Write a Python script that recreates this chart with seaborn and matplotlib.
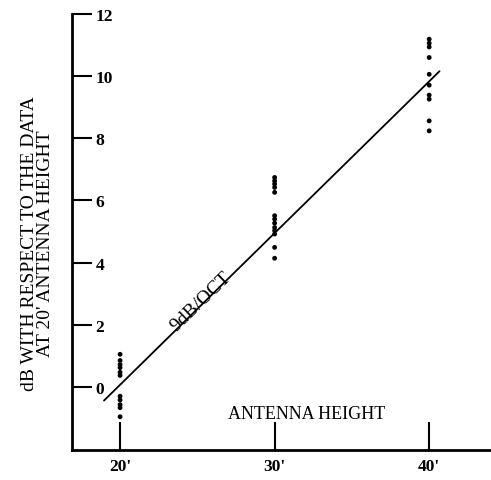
import numpy as np
import pandas as pd
import matplotlib
matplotlib.use("Agg")
import matplotlib.pyplot as plt
import seaborn as sns

# ---- data ----
heights_20 = [1.05, 0.85, 0.72, 0.62, 0.47, 0.37, -0.30, -0.42, -0.57, -0.67, -0.96]
heights_30 = [6.74, 6.63, 6.53, 6.42, 6.26, 5.51, 5.40, 5.27, 5.13, 5.03, 4.92, 4.49, 4.14]
heights_40 = [11.19, 11.06, 10.94, 10.60, 10.06, 9.71, 9.39, 9.26, 8.56, 8.24]
antenna_heights = [20, 30, 40]
fit_x = [18.96, 40.67]
fit_y = [-0.44, 10.16]
x_tick_labels = ["20'", "30'", "40'"]
y_ticks = [0, 2, 4, 6, 8, 10, 12]

rows = []
for h, vals in zip(antenna_heights, [heights_20, heights_30, heights_40]):
    for v in vals:
        rows.append({"height": h, "db": v})
df = pd.DataFrame(rows)
fit_df = pd.DataFrame({"height": fit_x, "db": fit_y})

sns.set_style("white")
plt.rcParams["font.family"] = ["Liberation Serif", "DejaVu Serif"]
plt.rcParams["text.color"] = "black"

fig = plt.figure(figsize=(4.91, 4.81), dpi=100)
ax = fig.add_axes([72 / 491, 30 / 481, 1 - 72 / 491, 436 / 481])

sns.scatterplot(data=df, x="height", y="db", ax=ax, color="black", s=12,
                edgecolor="none", linewidth=0, legend=False, zorder=3)
sns.lineplot(data=fit_df, x="height", y="db", ax=ax, color="black", lw=1.3)

ax.set_xlim(16.89, 44.0)
ax.set_ylim(-2.03, 12.0)

for side in ["top", "right"]:
    ax.spines[side].set_visible(False)
for side in ["left", "bottom"]:
    ax.spines[side].set_linewidth(2.0)
    ax.spines[side].set_color("black")

ax.set_xticks(antenna_heights)
ax.set_xticklabels(x_tick_labels, fontsize=12.5, fontweight="bold")
ax.set_yticks(y_ticks)
ax.set_yticklabels([str(t) for t in y_ticks], fontsize=12.5, fontweight="bold")

ax.tick_params(axis="x", which="major", bottom=True, direction="in", length=20,
               width=1.5, pad=6, colors="black", labelcolor="black")
ax.tick_params(axis="y", which="major", left=True, direction="in", length=14.5,
               width=1.5, pad=-17, colors="black", labelcolor="black")
for lbl in ax.get_yticklabels():
    lbl.set_horizontalalignment("left")

ax.set_xlabel("")
ax.set_ylabel("dB WITH RESPECT TO THE DATA\nAT 20' ANTENNA HEIGHT",
              fontsize=14, linespacing=0.95, color="black")
ax.yaxis.set_label_coords(-0.043, 0.475)

ax.text(32.07, -0.87, "ANTENNA HEIGHT", fontsize=13, ha="center", va="center",
        color="black")
ax.text(25.25, 2.75, "9dB/OCT", fontsize=14, ha="center", va="center",
        rotation=44, rotation_mode="anchor", color="black")

fig.savefig("out.png", dpi=100)
